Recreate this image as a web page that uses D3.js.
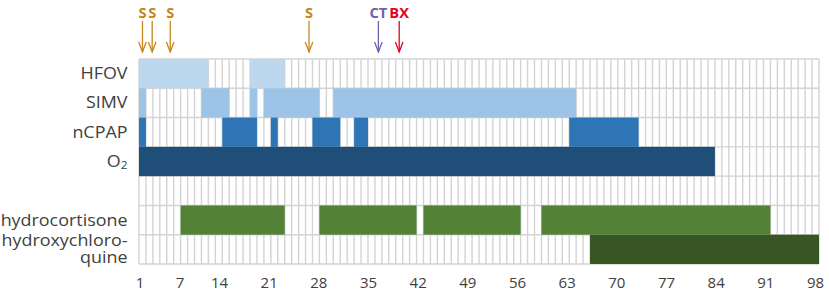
<!DOCTYPE html>
<html>
<head>
<meta charset="utf-8">
<script src="https://cdn.jsdelivr.net/npm/d3@7"></script>
<style>
  html, body { margin: 0; padding: 0; background: #fff; }
  svg { display: block; font-family: "Open Sans", "Noto Sans", sans-serif; }
</style>
</head>
<body>
<svg id="chart" width="829" height="294"></svg>
<script>
// ---- data ----
const rowLabels = ["HFOV", "SIMV", "nCPAP", "O2", "", "hydrocortisone", "hydroxychloro-quine"];
const rowColors = ["#BDD7EE", "#9DC3E6", "#2E75B6", "#1F4E79", "none", "#538135", "#375623"];
// periods per row: [first day, last day]
const hfov = [[1, 10], [17, 21]];
const simv = [[1, 1], [10, 13], [17, 17], [19, 26], [29, 63]];
const ncpap = [[1, 1], [13, 17], [20, 20], [26, 29], [32, 33], [63, 72]];
const o2 = [[1, 83]];
const gapRow = [];
const hydrocortisone = [[7, 21], [27, 40], [42, 55], [59, 91]];
const hydroxychloroquine = [[66, 98]];
const rowPeriods = [hfov, simv, ncpap, o2, gapRow, hydrocortisone, hydroxychloroquine];

const totalDays = 98;
const tickDays = [1, 7, 14, 21, 28, 35, 42, 49, 56, 63, 70, 77, 84, 91, 98];

const eventLabels = ["S", "S", "S", "S", "CT", "BX"];
const eventDays = [1, 2.4, 5, 25, 35, 38];
const eventColors = ["#C8861A", "#C8861A", "#C8861A", "#C8861A", "#6B63AE", "#E8001C"];

// ---- layout ----
const svg = d3.select("#chart");
const mLeft = 139, mRight = 819, mTop = 59, mBottom = 264;
const x = d3.scaleLinear().domain([0, totalDays]).range([mLeft, mRight]);
const y = d3.scaleBand().domain(d3.range(rowLabels.length)).range([mTop, mBottom]).padding(0);
const tickX = d3.scaleLinear().domain([1, 7, 14, 98]).range([140, 180, 219.5, 815.5]);
const textColor = "#404040";
const gridColor = "#D3D3D3";
const labelX = 127.5, stretch = 1.12;

// grid
const grid = svg.append("g");
grid.selectAll("line.v").data(d3.range(0, totalDays + 1)).join("line")
  .attr("x1", d => x(d)).attr("x2", d => x(d))
  .attr("y1", mTop).attr("y2", mBottom)
  .attr("stroke", gridColor).attr("stroke-width", 1.4);
grid.selectAll("line.h").data(d3.range(0, rowLabels.length + 1)).join("line")
  .attr("x1", mLeft).attr("x2", mRight)
  .attr("y1", d => mTop + d * y.bandwidth()).attr("y2", d => mTop + d * y.bandwidth())
  .attr("stroke", gridColor).attr("stroke-width", 1.4);

// bars
rowPeriods.forEach((periods, i) => {
  svg.append("g").selectAll("rect").data(periods).join("rect")
    .attr("x", d => x(d[0] - 1))
    .attr("width", d => x(d[1]) - x(d[0] - 1))
    .attr("y", y(i))
    .attr("height", y.bandwidth())
    .attr("fill", rowColors[i]);
});

// row labels
const lab = svg.append("g").attr("fill", textColor).attr("font-size", 16).attr("text-anchor", "end");
rowLabels.forEach((t, i) => {
  if (!t) return;
  const cy = y(i) + y.bandwidth() / 2;
  if (t === "O2") {
    const tx = lab.append("text").attr("transform", `translate(${labelX},${cy + 5.5}) scale(${stretch},1)`);
    tx.append("tspan").text("O");
    tx.append("tspan").attr("font-size", 10.5).attr("dy", 2).text("2");
  } else if (t.endsWith("quine")) {
    const parts = ["hydroxychloro-", "quine"];
    const tx = lab.append("text").attr("transform", `translate(${labelX},${cy - 3}) scale(${stretch},1)`);
    tx.append("tspan").attr("x", 0).attr("dy", 0).text(parts[0]);
    tx.append("tspan").attr("x", 0).attr("dy", 17).text(parts[1]);
  } else {
    lab.append("text").attr("transform", `translate(${labelX},${cy + 5.5}) scale(${stretch},1)`).text(t);
  }
});

// x tick labels
svg.append("g").selectAll("text").data(tickDays).join("text")
  .attr("x", d => tickX(d)).attr("y", 288)
  .attr("text-anchor", "middle").attr("font-size", 15).attr("fill", textColor)
  .text(d => d);

// events
const ev = svg.append("g");
eventDays.forEach((d, i) => {
  const cx = x(d - 0.5);
  const g = ev.append("g").attr("stroke", eventColors[i]).attr("fill", "none").attr("stroke-width", 1.3);
  g.append("line").attr("x1", cx).attr("x2", cx).attr("y1", 21).attr("y2", 52);
  g.append("path").attr("d", `M${cx - 3.8},${42}L${cx},${52}L${cx + 3.8},${42}`);
  ev.append("text").attr("transform", `translate(${cx},17.5) scale(1.05,1)`).attr("text-anchor", "middle")
    .attr("font-size", 14).attr("font-weight", "bold").attr("fill", eventColors[i])
    .text(eventLabels[i]);
});
</script>
</body>
</html>
